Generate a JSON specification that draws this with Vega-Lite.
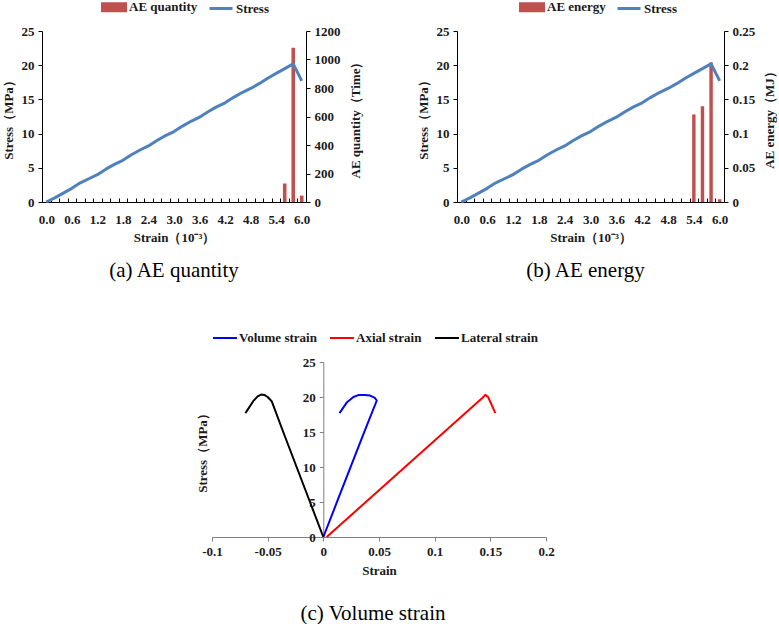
{
  "$schema": "https://vega.github.io/schema/vega-lite/v6.json",
  "background": "white",
  "padding": {"left": 2, "top": -6, "right": 0, "bottom": 0},
  "config": {
    "view": {"stroke": null},
    "font": "Liberation Serif",
    "axis": {
      "grid": false,
      "labelFont": "Liberation Serif", "labelFontWeight": "bold", "labelFontSize": 13, "labelColor": "#1a1a1a",
      "titleFont": "Liberation Serif", "titleFontWeight": "bold", "titleFontSize": 13, "titleColor": "#1a1a1a",
      "domainColor": "#000000", "tickColor": "#000000", "tickSize": 4, "labelPadding": 4
    },
    "legend": {
      "labelFont": "Liberation Serif", "labelFontWeight": "bold", "labelFontSize": 13, "labelColor": "#1a1a1a"
    },
    "title": {"font": "Liberation Serif", "fontSize": 21, "fontWeight": "normal", "color": "#000000", "anchor": "middle"}
  },
  "datasets": {
    "stress": [
      {"strain": "0.0", "stress": 0}, {"strain": "0.2", "stress": 0.6}, {"strain": "0.4", "stress": 1.3},
      {"strain": "0.6", "stress": 2.0}, {"strain": "0.8", "stress": 2.8}, {"strain": "1.0", "stress": 3.4},
      {"strain": "1.2", "stress": 4.0}, {"strain": "1.4", "stress": 4.8}, {"strain": "1.6", "stress": 5.5},
      {"strain": "1.8", "stress": 6.1}, {"strain": "2.0", "stress": 6.9}, {"strain": "2.2", "stress": 7.6},
      {"strain": "2.4", "stress": 8.2}, {"strain": "2.6", "stress": 9.0}, {"strain": "2.8", "stress": 9.7},
      {"strain": "3.0", "stress": 10.3}, {"strain": "3.2", "stress": 11.1}, {"strain": "3.4", "stress": 11.8},
      {"strain": "3.6", "stress": 12.4}, {"strain": "3.8", "stress": 13.2}, {"strain": "4.0", "stress": 13.9},
      {"strain": "4.2", "stress": 14.5}, {"strain": "4.4", "stress": 15.3}, {"strain": "4.6", "stress": 16.0},
      {"strain": "4.8", "stress": 16.6}, {"strain": "5.0", "stress": 17.3}, {"strain": "5.2", "stress": 18.1},
      {"strain": "5.4", "stress": 18.8}, {"strain": "5.6", "stress": 19.5}, {"strain": "5.8", "stress": 20.2},
      {"strain": "6.0", "stress": 17.7}
    ],
    "aeCount": [
      {"strain": "5.6", "count": 130}, {"strain": "5.8", "count": 1083}, {"strain": "6.0", "count": 45}
    ],
    "aeEnergy": [
      {"strain": "5.4", "energy": 0.128}, {"strain": "5.6", "energy": 0.14}, {"strain": "5.8", "energy": 0.204}, {"strain": "6.0", "energy": 0.004}
    ],
    "volume": [
      {"series": "Volume strain", "strain": 0, "stress": 0},
      {"series": "Volume strain", "strain": 0.012, "stress": 4.9},
      {"series": "Volume strain", "strain": 0.024, "stress": 9.8},
      {"series": "Volume strain", "strain": 0.036, "stress": 14.7},
      {"series": "Volume strain", "strain": 0.048, "stress": 19.5},
      {"series": "Volume strain", "strain": 0.046, "stress": 19.9},
      {"series": "Volume strain", "strain": 0.042, "stress": 20.2},
      {"series": "Volume strain", "strain": 0.037, "stress": 20.3},
      {"series": "Volume strain", "strain": 0.032, "stress": 20.3},
      {"series": "Volume strain", "strain": 0.027, "stress": 20.0},
      {"series": "Volume strain", "strain": 0.021, "stress": 19.2},
      {"series": "Volume strain", "strain": 0.0145, "stress": 17.7},
      {"series": "Axial strain", "strain": 0.003, "stress": 0},
      {"series": "Axial strain", "strain": 0.143, "stress": 19.9},
      {"series": "Axial strain", "strain": 0.1455, "stress": 20.3},
      {"series": "Axial strain", "strain": 0.148, "stress": 20.0},
      {"series": "Axial strain", "strain": 0.1545, "stress": 17.7},
      {"series": "Lateral strain", "strain": 0, "stress": 0},
      {"series": "Lateral strain", "strain": -0.012, "stress": 5.0},
      {"series": "Lateral strain", "strain": -0.024, "stress": 10.0},
      {"series": "Lateral strain", "strain": -0.036, "stress": 15.0},
      {"series": "Lateral strain", "strain": -0.0464, "stress": 19.4},
      {"series": "Lateral strain", "strain": -0.05, "stress": 20.0},
      {"series": "Lateral strain", "strain": -0.053, "stress": 20.3},
      {"series": "Lateral strain", "strain": -0.056, "stress": 20.35},
      {"series": "Lateral strain", "strain": -0.059, "stress": 20.1},
      {"series": "Lateral strain", "strain": -0.063, "stress": 19.4},
      {"series": "Lateral strain", "strain": -0.07, "stress": 17.7}
    ]
  },
  "vconcat": [
    {
      "hconcat": [
        {
          "width": 264, "height": 171,
          "title": {"text": "(a) AE quantity", "orient": "bottom", "frame": "group", "offset": 16},
          "layer": [
            {
              "data": {"name": "aeCount"},
              "mark": {"type": "bar", "width": {"band": 0.42}},
              "encoding": {
                "x": {
                  "field": "strain", "type": "ordinal",
                  "scale": {"domain": ["0.0","0.2","0.4","0.6","0.8","1.0","1.2","1.4","1.6","1.8","2.0","2.2","2.4","2.6","2.8","3.0","3.2","3.4","3.6","3.8","4.0","4.2","4.4","4.6","4.8","5.0","5.2","5.4","5.6","5.8","6.0"], "paddingInner": 0, "paddingOuter": 0},
                  "axis": {
                    "title": "Strain（10⁻³）", "titlePadding": 5,
                    "labelAngle": 0, "labelOverlap": false, "tickBand": "extent", "tickSize": -4, "labelPadding": 15,
                    "labelExpr": "indexof(['0.0','0.6','1.2','1.8','2.4','3.0','3.6','4.2','4.8','5.4','6.0'], datum.value) >= 0 ? datum.value : ''"
                  }
                },
                "y": {
                  "field": "count", "type": "quantitative", "scale": {"domain": [0, 1200]},
                  "axis": {"orient": "right", "values": [0,200,400,600,800,1000,1200], "format": "d", "title": "AE quantity（Time）", "titleAngle": 270, "titleBaseline": "top", "titlePadding": 9}
                },
                "color": {
                  "datum": "AE quantity", "type": "nominal",
                  "scale": {"domain": ["AE quantity", "Stress"], "range": ["#C0504D", "#4F81BD"]},
                  "legend": {
                    "title": null, "orient": "none", "legendX": 59, "legendY": -37, "direction": "horizontal",
                    "symbolSize": 529, "labelOffset": 2, "columnPadding": 5,
                    "encode": {"symbols": {"update": {
                      "shape": {"signal": "datum.value === 'Stress' ? 'stroke' : 'M-1,-0.3H1V0.3H-1Z'"},
                      "fill": {"signal": "datum.value === 'Stress' ? 'transparent' : '#C0504D'"},
                      "stroke": {"signal": "datum.value === 'Stress' ? '#4F81BD' : 'transparent'"},
                      "strokeWidth": {"value": 3}, "opacity": {"value": 1}, "fillOpacity": {"value": 1}, "strokeOpacity": {"value": 1}
                    }}}
                  }
                }
              }
            },
            {
              "data": {"name": "stress"},
              "mark": {"type": "line", "strokeWidth": 3, "strokeJoin": "round"},
              "encoding": {
                "x": {"field": "strain", "type": "ordinal"},
                "y": {
                  "field": "stress", "type": "quantitative", "scale": {"domain": [0, 25]},
                  "axis": {"orient": "left", "values": [0,5,10,15,20,25], "title": "Stress（MPa）", "titlePadding": 6}
                },
                "color": {"datum": "Stress", "type": "nominal"},
                "order": {"value": null}
              }
            }
          ],
          "resolve": {"scale": {"y": "independent"}}
        },
        {
          "width": 267, "height": 171,
          "title": {"text": "(b) AE energy", "orient": "bottom", "frame": "group", "offset": 16, "dx": -5},
          "layer": [
            {
              "data": {"name": "aeEnergy"},
              "mark": {"type": "bar", "width": {"band": 0.4}},
              "encoding": {
                "x": {
                  "field": "strain", "type": "ordinal",
                  "scale": {"domain": ["0.0","0.2","0.4","0.6","0.8","1.0","1.2","1.4","1.6","1.8","2.0","2.2","2.4","2.6","2.8","3.0","3.2","3.4","3.6","3.8","4.0","4.2","4.4","4.6","4.8","5.0","5.2","5.4","5.6","5.8","6.0"], "paddingInner": 0, "paddingOuter": 0},
                  "axis": {
                    "title": "Strain（10⁻³）", "titlePadding": 5,
                    "labelAngle": 0, "labelOverlap": false, "tickBand": "extent", "tickSize": -4, "labelPadding": 15,
                    "labelExpr": "indexof(['0.0','0.6','1.2','1.8','2.4','3.0','3.6','4.2','4.8','5.4','6.0'], datum.value) >= 0 ? datum.value : ''"
                  }
                },
                "y": {
                  "field": "energy", "type": "quantitative", "scale": {"domain": [0, 0.25]},
                  "axis": {"orient": "right", "values": [0,0.05,0.1,0.15,0.2,0.25], "format": "~g", "title": "AE energy（MJ）", "titleAngle": 270, "titleBaseline": "top", "titlePadding": 9}
                },
                "color": {
                  "datum": "AE energy", "type": "nominal",
                  "scale": {"domain": ["AE energy", "Stress"], "range": ["#C0504D", "#4F81BD"]},
                  "legend": {
                    "title": null, "orient": "none", "legendX": 62, "legendY": -37, "direction": "horizontal",
                    "symbolSize": 529, "labelOffset": 2, "columnPadding": 5,
                    "encode": {"symbols": {"update": {
                      "shape": {"signal": "datum.value === 'Stress' ? 'stroke' : 'M-1,-0.3H1V0.3H-1Z'"},
                      "fill": {"signal": "datum.value === 'Stress' ? 'transparent' : '#C0504D'"},
                      "stroke": {"signal": "datum.value === 'Stress' ? '#4F81BD' : 'transparent'"},
                      "strokeWidth": {"value": 3}, "opacity": {"value": 1}, "fillOpacity": {"value": 1}, "strokeOpacity": {"value": 1}
                    }}}
                  }
                }
              }
            },
            {
              "data": {"name": "stress"},
              "mark": {"type": "line", "strokeWidth": 3, "strokeJoin": "round"},
              "encoding": {
                "x": {"field": "strain", "type": "ordinal"},
                "y": {
                  "field": "stress", "type": "quantitative", "scale": {"domain": [0, 25]},
                  "axis": {"orient": "left", "values": [0,5,10,15,20,25], "title": "Stress（MPa）", "titlePadding": 6}
                },
                "color": {"datum": "Stress", "type": "nominal"},
                "order": {"value": null}
              }
            }
          ],
          "resolve": {"scale": {"y": "independent"}}
        }
      ],
      "spacing": 151,
      "bounds": "flush",
      "resolve": {"scale": {"color": "independent"}, "legend": {"color": "independent"}}
    },
    {
      "hconcat": [
        {
          "width": 170, "height": 1,
          "data": {"values": []},
          "mark": {"type": "point"}
        },
        {
          "width": 334, "height": 175,
          "title": {"text": "(c) Volume strain", "orient": "bottom", "frame": "group", "offset": 26, "dx": -6},
          "data": {"name": "volume"},
          "mark": {"type": "line", "strokeWidth": 2, "strokeJoin": "round"},
          "encoding": {
            "x": {
              "field": "strain", "type": "quantitative", "scale": {"domain": [-0.1, 0.2], "nice": false, "zero": false},
              "axis": {
                "values": [-0.1,-0.05,0,0.05,0.1,0.15,0.2], "format": "~g", "title": "Strain", "titlePadding": 6,
                "labelExpr": "replace(datum.label, '−', '-')",
                "domainColor": "#808080", "tickColor": "#808080", "labelOverlap": false, "labelFlush": false
              }
            },
            "y": {
              "field": "stress", "type": "quantitative", "scale": {"domain": [0, 25]},
              "axis": {
                "values": [0,5,10,15,20,25], "title": "Stress（MPa）", "offset": -111.3,
                "titleX": -121, "titleY": 87.5, "titleAngle": 270, "titleAlign": "center", "titleBaseline": "middle",
                "domainColor": "#808080", "tickColor": "#808080"
              }
            },
            "color": {
              "field": "series", "type": "nominal",
              "scale": {"domain": ["Volume strain", "Axial strain", "Lateral strain"], "range": ["#0000FF", "#FF0000", "#000000"]},
              "legend": {
                "title": null, "orient": "none", "legendX": 0, "legendY": -37, "direction": "horizontal",
                "symbolType": "stroke", "symbolSize": 576, "symbolStrokeWidth": 2, "labelOffset": 1, "columnPadding": 9
              }
            },
            "order": {"value": null}
          }
        }
      ],
      "spacing": 0,
      "bounds": "flush",
      "resolve": {"scale": {"color": "independent"}, "legend": {"color": "independent"}}
    }
  ],
  "spacing": 331,
  "bounds": "flush"
}
